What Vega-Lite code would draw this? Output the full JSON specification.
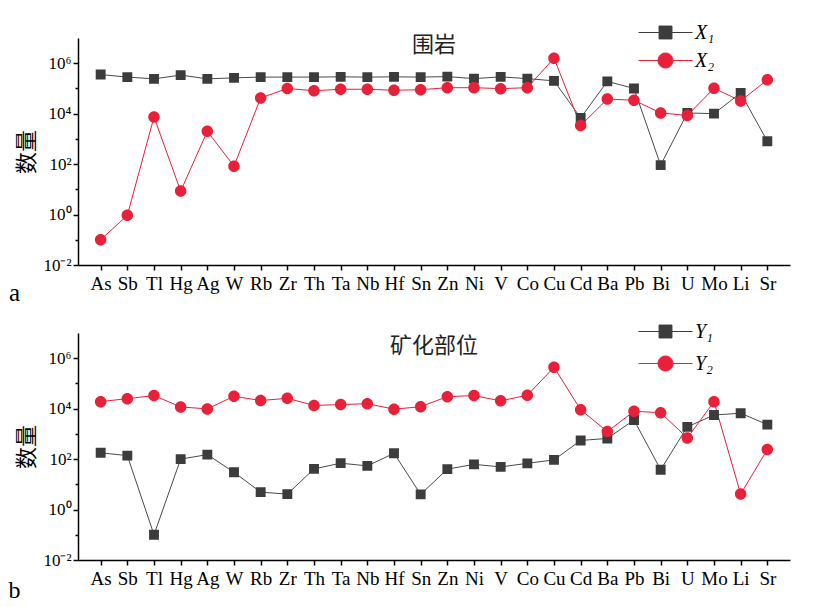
{
  "$schema": "https://vega.github.io/schema/vega-lite/v6.json",
  "background": "white",
  "padding": {"left": 8, "top": 17, "right": 5, "bottom": 3},
  "spacing": 68,
  "bounds": "flush",
  "resolve": {"scale": {"color": "independent", "shape": "independent", "stroke": "independent"}},
  "datasets": {
    "a": [
      {"e": "As", "s": "X₁", "v": 355000}, {"e": "Sb", "s": "X₁", "v": 282000}, {"e": "Tl", "s": "X₁", "v": 240000},
      {"e": "Hg", "s": "X₁", "v": 339000}, {"e": "Ag", "s": "X₁", "v": 240000}, {"e": "W", "s": "X₁", "v": 263000},
      {"e": "Rb", "s": "X₁", "v": 282000}, {"e": "Zr", "s": "X₁", "v": 282000}, {"e": "Th", "s": "X₁", "v": 282000},
      {"e": "Ta", "s": "X₁", "v": 288000}, {"e": "Nb", "s": "X₁", "v": 282000}, {"e": "Hf", "s": "X₁", "v": 288000},
      {"e": "Sn", "s": "X₁", "v": 282000}, {"e": "Zn", "s": "X₁", "v": 295000}, {"e": "Ni", "s": "X₁", "v": 245000},
      {"e": "V", "s": "X₁", "v": 288000}, {"e": "Co", "s": "X₁", "v": 245000}, {"e": "Cu", "s": "X₁", "v": 200000},
      {"e": "Cd", "s": "X₁", "v": 6800}, {"e": "Ba", "s": "X₁", "v": 190000}, {"e": "Pb", "s": "X₁", "v": 100000},
      {"e": "Bi", "s": "X₁", "v": 91}, {"e": "U", "s": "X₁", "v": 10700}, {"e": "Mo", "s": "X₁", "v": 10000},
      {"e": "Li", "s": "X₁", "v": 66000}, {"e": "Sr", "s": "X₁", "v": 810},
      {"e": "As", "s": "X₂", "v": 0.1}, {"e": "Sb", "s": "X₂", "v": 0.93}, {"e": "Tl", "s": "X₂", "v": 7400},
      {"e": "Hg", "s": "X₂", "v": 8.5}, {"e": "Ag", "s": "X₂", "v": 2000}, {"e": "W", "s": "X₂", "v": 83},
      {"e": "Rb", "s": "X₂", "v": 41700}, {"e": "Zr", "s": "X₂", "v": 100000}, {"e": "Th", "s": "X₂", "v": 81000},
      {"e": "Ta", "s": "X₂", "v": 93000}, {"e": "Nb", "s": "X₂", "v": 93000}, {"e": "Hf", "s": "X₂", "v": 85000},
      {"e": "Sn", "s": "X₂", "v": 89000}, {"e": "Zn", "s": "X₂", "v": 107000}, {"e": "Ni", "s": "X₂", "v": 107000},
      {"e": "V", "s": "X₂", "v": 98000}, {"e": "Co", "s": "X₂", "v": 107000}, {"e": "Cu", "s": "X₂", "v": 1580000},
      {"e": "Cd", "s": "X₂", "v": 3400}, {"e": "Ba", "s": "X₂", "v": 38000}, {"e": "Pb", "s": "X₂", "v": 34000},
      {"e": "Bi", "s": "X₂", "v": 10700}, {"e": "U", "s": "X₂", "v": 8500}, {"e": "Mo", "s": "X₂", "v": 102000},
      {"e": "Li", "s": "X₂", "v": 32000}, {"e": "Sr", "s": "X₂", "v": 219000}
    ],
    "b": [
      {"e": "As", "s": "Y₁", "v": 178}, {"e": "Sb", "s": "Y₁", "v": 138}, {"e": "Tl", "s": "Y₁", "v": 0.1},
      {"e": "Hg", "s": "Y₁", "v": 100}, {"e": "Ag", "s": "Y₁", "v": 151}, {"e": "W", "s": "Y₁", "v": 30},
      {"e": "Rb", "s": "Y₁", "v": 4.9}, {"e": "Zr", "s": "Y₁", "v": 4.1}, {"e": "Th", "s": "Y₁", "v": 41},
      {"e": "Ta", "s": "Y₁", "v": 69}, {"e": "Nb", "s": "Y₁", "v": 54}, {"e": "Hf", "s": "Y₁", "v": 170},
      {"e": "Sn", "s": "Y₁", "v": 4.0}, {"e": "Zn", "s": "Y₁", "v": 40}, {"e": "Ni", "s": "Y₁", "v": 62},
      {"e": "V", "s": "Y₁", "v": 49}, {"e": "Co", "s": "Y₁", "v": 68}, {"e": "Cu", "s": "Y₁", "v": 93},
      {"e": "Cd", "s": "Y₁", "v": 550}, {"e": "Ba", "s": "Y₁", "v": 660}, {"e": "Pb", "s": "Y₁", "v": 3550},
      {"e": "Bi", "s": "Y₁", "v": 38}, {"e": "U", "s": "Y₁", "v": 1900}, {"e": "Mo", "s": "Y₁", "v": 5600},
      {"e": "Li", "s": "Y₁", "v": 6600}, {"e": "Sr", "s": "Y₁", "v": 2340},
      {"e": "As", "s": "Y₂", "v": 19000}, {"e": "Sb", "s": "Y₂", "v": 25000}, {"e": "Tl", "s": "Y₂", "v": 33000},
      {"e": "Hg", "s": "Y₂", "v": 11700}, {"e": "Ag", "s": "Y₂", "v": 9800}, {"e": "W", "s": "Y₂", "v": 31000},
      {"e": "Rb", "s": "Y₂", "v": 21000}, {"e": "Zr", "s": "Y₂", "v": 25700}, {"e": "Th", "s": "Y₂", "v": 13500},
      {"e": "Ta", "s": "Y₂", "v": 14500}, {"e": "Nb", "s": "Y₂", "v": 15800}, {"e": "Hf", "s": "Y₂", "v": 9500},
      {"e": "Sn", "s": "Y₂", "v": 12000}, {"e": "Zn", "s": "Y₂", "v": 30000}, {"e": "Ni", "s": "Y₂", "v": 33000},
      {"e": "V", "s": "Y₂", "v": 20400}, {"e": "Co", "s": "Y₂", "v": 34000}, {"e": "Cu", "s": "Y₂", "v": 437000},
      {"e": "Cd", "s": "Y₂", "v": 9100}, {"e": "Ba", "s": "Y₂", "v": 1230}, {"e": "Pb", "s": "Y₂", "v": 7900},
      {"e": "Bi", "s": "Y₂", "v": 6900}, {"e": "U", "s": "Y₂", "v": 690}, {"e": "Mo", "s": "Y₂", "v": 19000},
      {"e": "Li", "s": "Y₂", "v": 4.1}, {"e": "Sr", "s": "Y₂", "v": 240}
    ]
  },
  "vconcat": [
    {
      "data": {"name": "a"},
      "width": 712,
      "height": 227,
      "title": {"text": "围岩", "orient": "top", "anchor": "middle", "frame": "group", "font": "Noto Sans CJK SC", "fontSize": 22, "fontWeight": "normal", "color": "#222", "baseline": "middle", "offset": -50},
      "encoding": {
        "x": {"field": "e", "type": "nominal",
          "sort": ["As","Sb","Tl","Hg","Ag","W","Rb","Zr","Th","Ta","Nb","Hf","Sn","Zn","Ni","V","Co","Cu","Cd","Ba","Pb","Bi","U","Mo","Li","Sr"],
          "scale": {"type": "point", "padding": 0.85},
          "axis": {"title": "a", "titleX": -64, "titleY": 27, "titleAlign": "center", "titleBaseline": "middle", "titleFont": "Liberation Serif", "titleFontSize": 25, "titleFontWeight": "normal", "labelAngle": 0, "labelOverlap": false, "labelFont": "Liberation Serif", "labelFontSize": 19, "labelPadding": 4, "tickSize": 5}},
        "y": {"field": "v", "type": "quantitative",
          "scale": {"type": "log", "domain": [0.01, 10000000], "nice": false},
          "axis": {"title": "数量", "titleFont": "Noto Sans CJK SC", "titleFontSize": 22, "titleFontWeight": "normal", "titlePadding": 4,
            "values": [0.01, 0.1, 1, 10, 100, 1000, 10000, 100000, 1000000],
            "labelExpr": "datum.value < 0.02 ? '10⁻²' : datum.value < 0.2 ? '' : datum.value < 2 ? '10⁰' : datum.value < 20 ? '' : datum.value < 200 ? '10²' : datum.value < 2000 ? '' : datum.value < 20000 ? '10⁴' : datum.value < 200000 ? '' : '10⁶'",
            "labelFont": "Liberation Serif", "labelFontSize": 17, "labelPadding": 2,
            "tickSize": {"condition": {"test": "(datum.value > 0.05 && datum.value < 0.2) || (datum.value > 5 && datum.value < 20) || (datum.value > 500 && datum.value < 2000) || (datum.value > 50000 && datum.value < 200000)", "value": 3}, "value": 5}}}
      },
      "layer": [
        {"mark": {"type": "line", "strokeWidth": 1},
         "encoding": {"stroke": {"field": "s", "type": "nominal", "scale": {"domain": ["X₂", "X₁"], "range": ["#e8203a", "#4a4a4a"]}, "legend": null}}},
        {"mark": {"type": "point", "filled": true, "opacity": 1, "size": 529},
         "encoding": {
           "color": {"field": "s", "type": "nominal", "scale": {"domain": ["X₁", "X₂"], "range": ["#3c3c3c", "#e8203a"]},
             "legend": {"orient": "none", "legendX": 572, "legendY": -21, "title": null, "rowPadding": 2,
               "encoding": {"symbols": {"stroke": {"condition": {"test": "datum.value == 'X₁'", "value": "#3c3c3c"}, "value": "#e8203a"}, "strokeWidth": {"value": 1}}}}},
           "shape": {"field": "s", "type": "nominal",
             "scale": {"domain": ["X₁", "X₂"], "range": ["M-1.8,0H-0.43M0.43,0H1.8M-0.43,-0.43H0.43V0.43H-0.43Z", "M-1.8,0H-0.5M0.5,0H1.8M0.5,0A0.5,0.5,0,1,1,-0.5,0A0.5,0.5,0,1,1,0.5,0Z"]},
             "legend": {"orient": "none", "legendX": 572, "legendY": -21, "title": null, "rowPadding": 2,
               "encoding": {"symbols": {"stroke": {"condition": {"test": "datum.value == 'X₁'", "value": "#3c3c3c"}, "value": "#e8203a"}, "strokeWidth": {"value": 1}}}}}
         }}
      ]
    },
    {
      "data": {"name": "b"},
      "width": 712,
      "height": 227,
      "title": {"text": "矿化部位", "orient": "top", "anchor": "middle", "frame": "group", "font": "Noto Sans CJK SC", "fontSize": 22, "fontWeight": "normal", "color": "#222", "baseline": "middle", "offset": -52},
      "encoding": {
        "x": {"field": "e", "type": "nominal",
          "sort": ["As","Sb","Tl","Hg","Ag","W","Rb","Zr","Th","Ta","Nb","Hf","Sn","Zn","Ni","V","Co","Cu","Cd","Ba","Pb","Bi","U","Mo","Li","Sr"],
          "scale": {"type": "point", "padding": 0.85},
          "axis": {"title": "b", "titleX": -64, "titleY": 30, "titleAlign": "center", "titleBaseline": "middle", "titleFont": "Liberation Serif", "titleFontSize": 24, "titleFontWeight": "normal", "labelAngle": 0, "labelOverlap": false, "labelFont": "Liberation Serif", "labelFontSize": 19, "labelPadding": 4, "tickSize": 5}},
        "y": {"field": "v", "type": "quantitative",
          "scale": {"type": "log", "domain": [0.01, 10000000], "nice": false},
          "axis": {"title": "数量", "titleFont": "Noto Sans CJK SC", "titleFontSize": 22, "titleFontWeight": "normal", "titlePadding": 4,
            "values": [0.01, 0.1, 1, 10, 100, 1000, 10000, 100000, 1000000],
            "labelExpr": "datum.value < 0.02 ? '10⁻²' : datum.value < 0.2 ? '' : datum.value < 2 ? '10⁰' : datum.value < 20 ? '' : datum.value < 200 ? '10²' : datum.value < 2000 ? '' : datum.value < 20000 ? '10⁴' : datum.value < 200000 ? '' : '10⁶'",
            "labelFont": "Liberation Serif", "labelFontSize": 17, "labelPadding": 2,
            "tickSize": {"condition": {"test": "(datum.value > 0.05 && datum.value < 0.2) || (datum.value > 5 && datum.value < 20) || (datum.value > 500 && datum.value < 2000) || (datum.value > 50000 && datum.value < 200000)", "value": 3}, "value": 5}}}
      },
      "layer": [
        {"mark": {"type": "line", "strokeWidth": 1},
         "encoding": {"stroke": {"field": "s", "type": "nominal", "scale": {"domain": ["Y₂", "Y₁"], "range": ["#e8203a", "#4a4a4a"]}, "legend": null}}},
        {"mark": {"type": "point", "filled": true, "opacity": 1, "size": 529},
         "encoding": {
           "color": {"field": "s", "type": "nominal", "scale": {"domain": ["Y₁", "Y₂"], "range": ["#3c3c3c", "#e8203a"]},
             "legend": {"orient": "none", "legendX": 572, "legendY": -17, "title": null, "rowPadding": 6,
               "encoding": {"symbols": {"stroke": {"condition": {"test": "datum.value == 'Y₁'", "value": "#3c3c3c"}, "value": "#e8203a"}, "strokeWidth": {"value": 1}}}}},
           "shape": {"field": "s", "type": "nominal",
             "scale": {"domain": ["Y₁", "Y₂"], "range": ["M-1.8,0H-0.43M0.43,0H1.8M-0.43,-0.43H0.43V0.43H-0.43Z", "M-1.8,0H-0.5M0.5,0H1.8M0.5,0A0.5,0.5,0,1,1,-0.5,0A0.5,0.5,0,1,1,0.5,0Z"]},
             "legend": {"orient": "none", "legendX": 572, "legendY": -17, "title": null, "rowPadding": 6,
               "encoding": {"symbols": {"stroke": {"condition": {"test": "datum.value == 'Y₁'", "value": "#3c3c3c"}, "value": "#e8203a"}, "strokeWidth": {"value": 1}}}}}
         }}
      ]
    }
  ],
  "config": {
    "view": {"stroke": null},
    "axis": {"domainColor": "#000", "domainWidth": 1.5, "tickColor": "#000", "tickWidth": 1.5, "labelColor": "#000", "titleColor": "#000", "grid": false},
    "legend": {"symbolSize": 900, "labelFont": "Liberation Serif", "labelFontSize": 20, "labelFontStyle": "italic", "labelColor": "#000", "labelOffset": 14, "padding": 0}
  }
}
